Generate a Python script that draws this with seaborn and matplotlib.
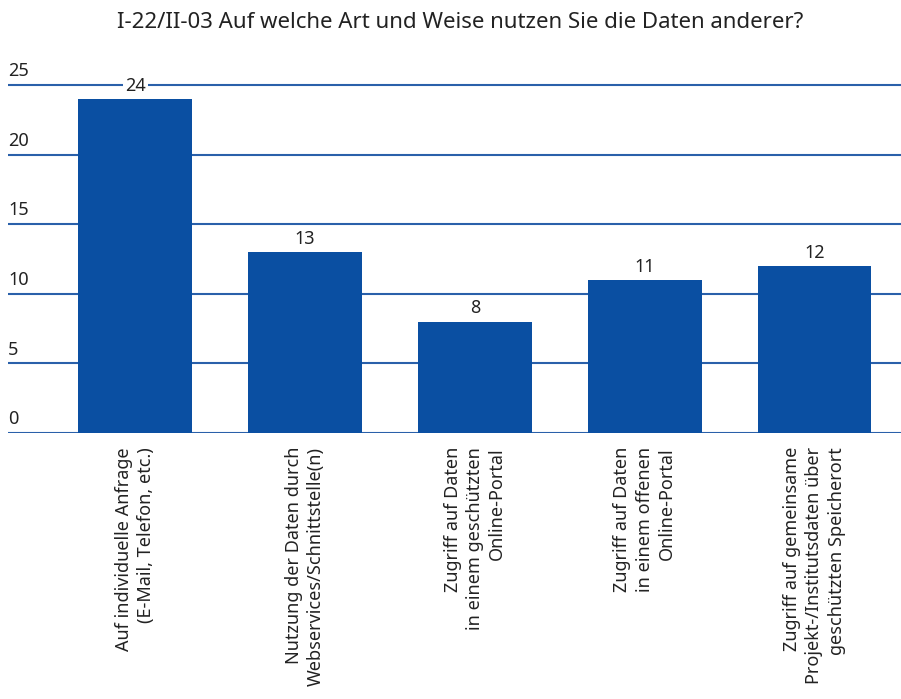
import matplotlib
matplotlib.use("Agg")
import matplotlib.pyplot as plt
import seaborn as sns
import pandas as pd

# Data
categories = [
    "Auf individuelle Anfrage\n(E-Mail, Telefon, etc.)",
    "Nutzung der Daten durch\nWebservices/Schnittstelle(n)",
    "Zugriff auf Daten\nin einem geschützten\nOnline-Portal",
    "Zugriff auf Daten\nin einem offenen\nOnline-Portal",
    "Zugriff auf gemeinsame\nProjekt-/Institutsdaten über\ngeschützten Speicherort",
]
counts = [24, 13, 8, 11, 12]
y_ticks = [0, 5, 10, 15, 20, 25]
title = "I-22/II-03 Auf welche Art und Weise nutzen Sie die Daten anderer?"

BAR = "#0a4fa2"
GRID = "#2a60aa"
TXT = "#222222"

sns.set_theme(style="white")
plt.rcParams["font.family"] = ["Noto Sans", "DejaVu Sans"]

df = pd.DataFrame({"cat": categories, "n": counts})

fig = plt.figure(figsize=(9.01, 6.99), dpi=100)
top_px = 433 - 25.3 * 13.92
ax = fig.add_axes([8 / 901, 1 - 433 / 699, 1 - 8 / 901, (433 - top_px) / 699])

for t in y_ticks:
    ax.axhline(t, color=GRID, lw=1.5, zorder=0)
    ax.text(0.0, t + 0.35, str(t), transform=ax.get_yaxis_transform(),
            ha="left", va="bottom", fontsize=13, color=TXT)

sns.barplot(data=df, x="cat", y="n", color=BAR, saturation=1, width=0.67,
            linewidth=0, edgecolor="none", ax=ax, zorder=2)

for i, v in enumerate(counts):
    ax.text(i, v + 0.3, str(v), ha="center", va="bottom", fontsize=13,
            color=TXT, zorder=3,
            bbox=dict(facecolor="white", edgecolor="none", pad=1.5))

ax.set_xlim(-0.75, 4.51)
ax.set_ylim(0, 25.3)
ax.set_yticks([])
ax.set_xlabel("")
ax.set_ylabel("")
ax.tick_params(axis="x", length=0, pad=10)
ax.set_xticks(range(len(categories)))
ax.set_xticklabels(categories, rotation=90, ha="center", va="top",
                   multialignment="right", fontsize=13, color=TXT,
                   linespacing=1.3)
for s in ax.spines.values():
    s.set_visible(False)

fig.text(460 / 901, 1 - 22 / 699, title, ha="center", va="center",
         fontsize=16, color=TXT)

fig.savefig("out.png", dpi=100)
